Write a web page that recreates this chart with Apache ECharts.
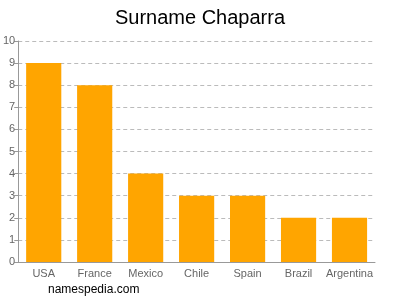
<!DOCTYPE html>
<html><head><meta charset="utf-8">
<script src="https://cdn.jsdelivr.net/npm/echarts@6/dist/echarts.min.js"></script>
<style>html,body{margin:0;padding:0;background:#fff}#c{width:400px;height:300px}</style>
</head><body><div id="c"></div>
<script>
var categories = ["USA","France","Mexico","Chile","Spain","Brazil","Argentina"];
var values = [9,8,4,3,3,2,2];
var yTicks = [0,1,2,3,4,5,6,7,8,9,10];
var chart = echarts.init(document.getElementById('c'), null, {renderer:'canvas'});
chart.setOption({
  animation:false,
  title:{text:"Surname Chaparra", left:'center', top:3, textStyle:{fontFamily:'Liberation Sans, Arial', fontWeight:'normal', fontSize:20, color:'#000'}},
  graphic:[{type:'text', left:48, top:284, style:{text:'namespedia.com', font:'12px Liberation Sans, Arial', fill:'#000'}}],
  grid:{left:17, right:25, top:41, bottom:38},
  xAxis:{type:'category', data:categories, axisTick:{show:false},
    axisLine:{lineStyle:{color:'#999'}},
    axisLabel:{interval:0, color:'#666', fontSize:11, fontFamily:'Liberation Sans, Arial', margin:6}},
  yAxis:{type:'value', min:0, max:10, interval:1,
    axisLine:{show:true, lineStyle:{color:'#999'}},
    axisTick:{show:true, length:4, lineStyle:{color:'#999'}},
    axisLabel:{color:'#666', fontSize:11, fontFamily:'Liberation Sans, Arial', margin:3,
      formatter:function(v){return yTicks.indexOf(v)>=0?String(v):'';}},
    splitLine:{show:true, lineStyle:{color:'#bbb', type:[4,3]}}},
  series:[{type:'bar', data:values, barCategoryGap:'31%', itemStyle:{color:'#FFA500'}}]
});
</script></body></html>
